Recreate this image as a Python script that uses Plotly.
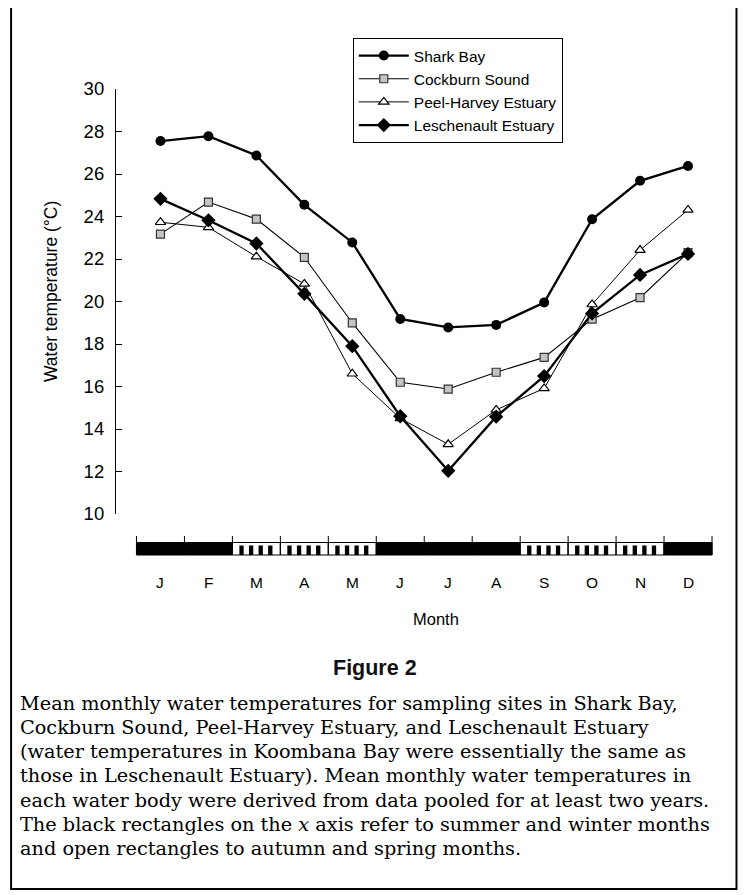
import plotly.graph_objects as go

months = ["J", "F", "M", "A", "M", "J", "J", "A", "S", "O", "N", "D"]
month_idx = list(range(1, 13))
shark_bay = [27.55, 27.78, 26.87, 24.55, 22.78, 19.18, 18.78, 18.90, 19.95, 23.87, 25.68, 26.38]
cockburn_sound = [23.17, 24.68, 23.88, 22.08, 18.99, 16.2, 15.88, 16.67, 17.37, 19.17, 20.18, 22.3]
peel_harvey = [23.73, 23.49, 22.11, 20.83, 16.6, 14.5, 13.28, 14.9, 15.91, 19.86, 22.42, 24.31]
leschenault = [24.83, 23.82, 22.73, 20.36, 17.9, 14.6, 12.03, 14.58, 16.49, 19.44, 21.25, 22.24]
# season strip: 1 = summer/winter (black), 0 = autumn/spring (open)
season_black = [1, 1, 0, 0, 0, 1, 1, 1, 0, 0, 0, 1]
y_ticks = [10, 12, 14, 16, 18, 20, 22, 24, 26, 28, 30]
caption_lines = [
    "Mean monthly water temperatures for sampling sites in Shark Bay,",
    "Cockburn Sound, Peel-Harvey Estuary, and Leschenault Estuary",
    "(water temperatures in Koombana Bay were essentially the same as",
    "those in Leschenault Estuary). Mean monthly water temperatures in",
    "each water body were derived from data pooled for at least two years.",
    "The black rectangles on the <i>x</i> axis refer to summer and winter months",
    "and open rectangles to autumn and spring months.",
]

OFF = 8                      # page body margin
W, H = 746 - OFF, 895 - OFF
PL, PT, PB = 116 - OFF, 89 - OFF, 514 - OFF   # plot area (figure pixels)
PXM = 48.0                   # pixels per month
x_lo = 0.5 - (136.5 - 116) / PXM
x_hi = 12.5 + 3 / PXM
PR = PL + (x_hi - x_lo) * PXM


def px(xp):
    """reference page pixel x -> paper x"""
    return (xp - OFF - PL) / (PR - PL)


def py(yp):
    """reference page pixel y -> paper y"""
    return (PB - (yp - OFF)) / (PB - PT)


SANS = "Liberation Sans, Arial, Helvetica, sans-serif"
fig = go.Figure()

fig.add_trace(go.Scatter(
    x=month_idx, y=shark_bay, name="Shark Bay", mode="lines+markers",
    line=dict(color="black", width=2.3),
    marker=dict(symbol="circle", size=10, color="black"),
))
fig.add_trace(go.Scatter(
    x=month_idx, y=cockburn_sound, name="Cockburn Sound", mode="lines+markers",
    line=dict(color="black", width=1.1),
    marker=dict(symbol="square", size=8, color="#c4c4c4",
                line=dict(color="#333333", width=1.2)),
))
fig.add_trace(go.Scatter(
    x=month_idx, y=peel_harvey, name="Peel-Harvey Estuary", mode="lines+markers",
    line=dict(color="black", width=1.0),
    marker=dict(symbol="triangle-up", size=9, color="white",
                line=dict(color="black", width=1.2)),
))
fig.add_trace(go.Scatter(
    x=month_idx, y=leschenault, name="Leschenault Estuary", mode="lines+markers",
    line=dict(color="black", width=2.3),
    marker=dict(symbol="diamond", size=11, color="black"),
))

shapes = []
# season strip below the x axis
s_top, s_bot, t_top = py(542.5), py(555), py(536)
for m, b in zip(month_idx, season_black):
    shapes.append(dict(type="rect", xref="x", yref="paper",
                       x0=m - 0.5, x1=m + 0.5, y0=s_bot, y1=s_top,
                       fillcolor="black" if b else "white",
                       line=dict(color="black", width=1)))
    if not b:
        for k in range(4):
            c = m - 0.5 + 0.19 + 0.2 * k
            shapes.append(dict(type="rect", xref="x", yref="paper",
                               x0=c - 0.045, x1=c + 0.045, y0=s_bot, y1=py(545.5),
                               fillcolor="black", line=dict(width=0)))
for m in range(13):
    shapes.append(dict(type="line", xref="x", yref="paper",
                       x0=m + 0.5, x1=m + 0.5, y0=s_bot, y1=t_top,
                       line=dict(color="black", width=1)))
# outer frame
shapes.append(dict(type="rect", xref="paper", yref="paper",
                   x0=px(11), x1=px(737), y0=py(889), y1=py(5),
                   line=dict(color="black", width=2), fillcolor="rgba(0,0,0,0)"))

annotations = []
for m, lab in zip(month_idx, months):
    annotations.append(dict(x=m, xref="x", y=py(582.5), yref="paper", text=lab,
                            showarrow=False, xanchor="center", yanchor="middle",
                            font=dict(family=SANS, size=15.5, color="black")))
annotations.append(dict(x=px(436), y=py(619), xref="paper", yref="paper", text="Month",
                        showarrow=False, xanchor="center", yanchor="middle",
                        font=dict(family=SANS, size=16.5, color="black")))
annotations.append(dict(x=px(51), y=py(292), xref="paper", yref="paper",
                        text="Water temperature (°C)", textangle=-90,
                        showarrow=False, xanchor="center", yanchor="middle",
                        font=dict(family=SANS, size=17.5, color="black")))
annotations.append(dict(x=px(375), y=py(668), xref="paper", yref="paper",
                        text="<b>Figure 2</b>",
                        showarrow=False, xanchor="center", yanchor="middle",
                        font=dict(family=SANS, size=21.5, color="#111111")))
for i, line in enumerate(caption_lines):
    annotations.append(dict(x=px(18), y=py(703 + 24.3 * i), xref="paper", yref="paper",
                            text=line, showarrow=False, xanchor="left", yanchor="middle",
                            font=dict(family="DejaVu Serif, serif", size=19.3, color="black")))

fig.update_layout(
    width=W, height=H,
    margin=dict(l=PL, r=W - PR, t=PT, b=H - PB, pad=0),
    paper_bgcolor="white", plot_bgcolor="white",
    showlegend=True,
    legend=dict(x=px(353), y=py(38), xanchor="left", yanchor="top",
                bordercolor="black", borderwidth=1, bgcolor="white",
                font=dict(family=SANS, size=15.5, color="black"),
                itemwidth=50, tracegroupgap=0),
    xaxis=dict(range=[x_lo, x_hi], showline=False, showgrid=False, zeroline=False,
               showticklabels=False, ticks=""),
    yaxis=dict(range=[10, 30], tickvals=y_ticks, showline=True, linecolor="black",
               linewidth=1.2, ticks="inside", ticklen=6, tickcolor="black",
               tickwidth=1.2, showgrid=False, zeroline=False, ticklabelstandoff=7,
               tickfont=dict(family=SANS, size=18.5, color="black")),
    shapes=shapes,
    annotations=annotations,
)

fig.write_html("out.html")
